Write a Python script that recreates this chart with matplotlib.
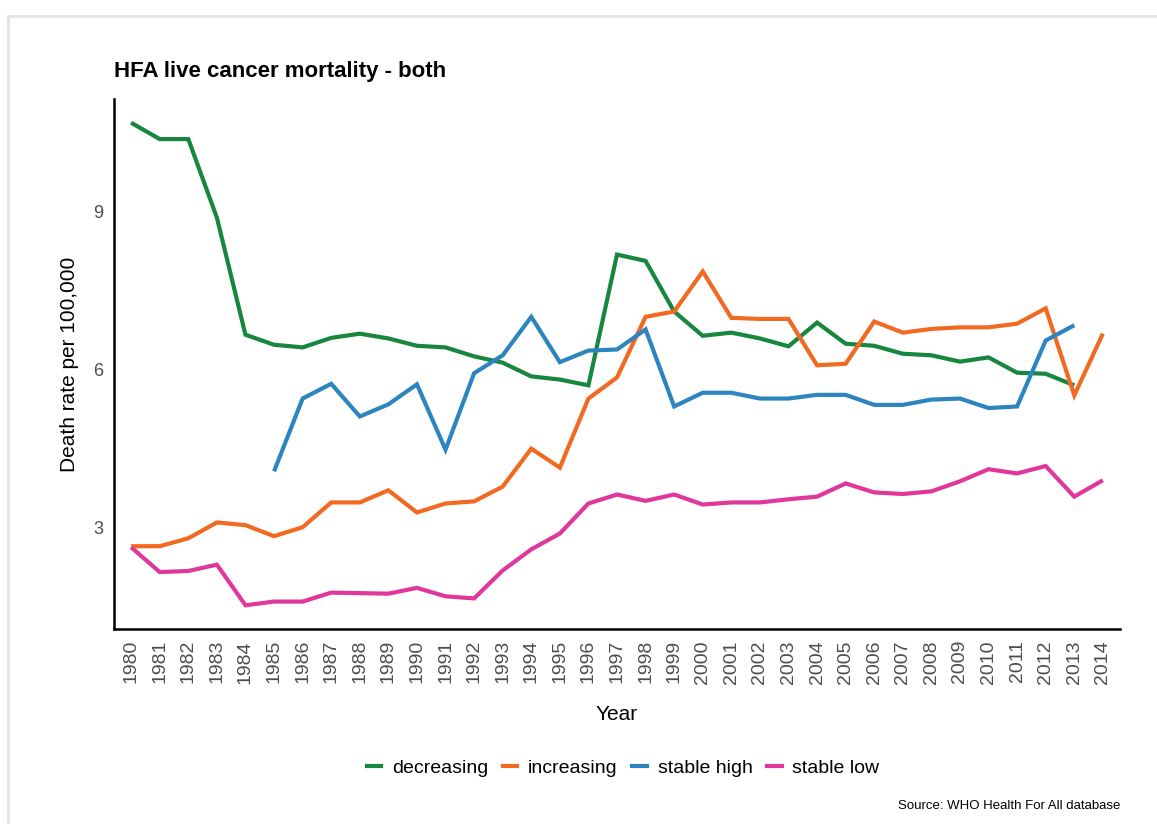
import numpy as np
import matplotlib
matplotlib.use("Agg")
import matplotlib.pyplot as plt
from matplotlib.lines import Line2D

plt.rcParams['font.family'] = ['Liberation Sans', 'DejaVu Sans']

years = list(range(1980, 2015))

decreasing = [10.68, 10.37, 10.37, 8.88, 6.66, 6.47, 6.42, 6.60, 6.68, 6.59,
              6.45, 6.42, 6.25, 6.13, 5.87, 5.81, 5.70, 8.18, 8.06, 7.10,
              6.64, 6.70, 6.59, 6.44, 6.89, 6.49, 6.45, 6.30, 6.27, 6.15,
              6.23, 5.94, 5.92, 5.70, np.nan]
increasing = [2.65, 2.65, 2.80, 3.10, 3.05, 2.84, 3.01, 3.48, 3.48, 3.71,
              3.29, 3.46, 3.50, 3.78, 4.50, 4.14, 5.45, 5.85, 7.00, 7.10,
              7.86, 6.98, 6.96, 6.96, 6.08, 6.11, 6.91, 6.70, 6.77, 6.80,
              6.80, 6.87, 7.16, 5.51, 6.68]
stable_high = [np.nan] * 5 + [4.07, 5.45, 5.73, 5.11, 5.34,
               5.72, 4.48, 5.93, 6.27, 7.00, 6.14, 6.36, 6.38, 6.76, 5.30,
               5.56, 5.56, 5.45, 5.45, 5.52, 5.52, 5.33, 5.33, 5.43, 5.45,
               5.27, 5.30, 6.55, 6.84, np.nan]
stable_low = [2.63, 2.16, 2.18, 2.30, 1.53, 1.60, 1.60, 1.77, 1.76, 1.75,
              1.86, 1.70, 1.66, 2.19, 2.59, 2.89, 3.46, 3.63, 3.51, 3.63,
              3.44, 3.48, 3.48, 3.54, 3.59, 3.84, 3.67, 3.64, 3.69, 3.88,
              4.11, 4.03, 4.17, 3.59, 3.90]

series = [("decreasing", decreasing, "#17873f"),
          ("increasing", increasing, "#f26a22"),
          ("stable high", stable_high, "#2d85c0"),
          ("stable low", stable_low, "#e0379b")]

fig = plt.figure(figsize=(11.57, 8.24), dpi=100)
ax = fig.add_axes([114 / 1157, 1 - 629 / 824, (1120 - 114) / 1157, (629 - 99) / 824])

x = np.arange(len(years))
for name, vals, col in series:
    ax.plot(x, vals, color=col, lw=3, solid_capstyle='butt', solid_joinstyle='miter')

ax.set_xlim(-0.6, len(years) - 1 + 0.6)
ax.set_ylim(1.08, 11.13)
ax.set_xticks(x)
ax.set_xticklabels([str(y) for y in years], rotation=90, fontsize=14, color='#4d4d4d')
ax.set_yticks([3, 6, 9])
ax.set_yticklabels(['3', '6', '9'], fontsize=13, color='#4d4d4d')
ax.tick_params(length=0, pad=8)
for s in ['top', 'right']:
    ax.spines[s].set_visible(False)
for s in ['left', 'bottom']:
    ax.spines[s].set_linewidth(1.8)
    ax.spines[s].set_color('black')

ax.set_xlabel("Year", fontsize=15, labelpad=15)
ax.set_ylabel("Death rate per 100,000", fontsize=15, labelpad=10)

fig.text(114 / 1157, 1 - 72 / 824, "HFA live cancer mortality - both",
         fontsize=16, fontweight='bold', va='center', ha='left')

handles = [Line2D([0], [0], color=c, lw=3) for _, _, c in series]
fig.legend(handles, [n for n, _, _ in series], loc='center',
           bbox_to_anchor=(623 / 1157, 1 - 768 / 824), ncol=4, frameon=False,
           fontsize=14, handlelength=0.75, handletextpad=0.55, columnspacing=0.75)

fig.text(1120 / 1157, 1 - 806 / 824, "Source: WHO Health For All database",
         fontsize=9.5, ha='right', va='center')

# light grey frame around the panel
fig.add_artist(Line2D([8 / 1157, 1.0], [1 - 15.5 / 824] * 2, color='#e3e3e3', lw=2,
                      transform=fig.transFigure))
fig.add_artist(Line2D([8 / 1157] * 2, [0.0, 1 - 15.5 / 824], color='#e3e3e3', lw=2,
                      transform=fig.transFigure))

fig.savefig("out.png", dpi=100)
